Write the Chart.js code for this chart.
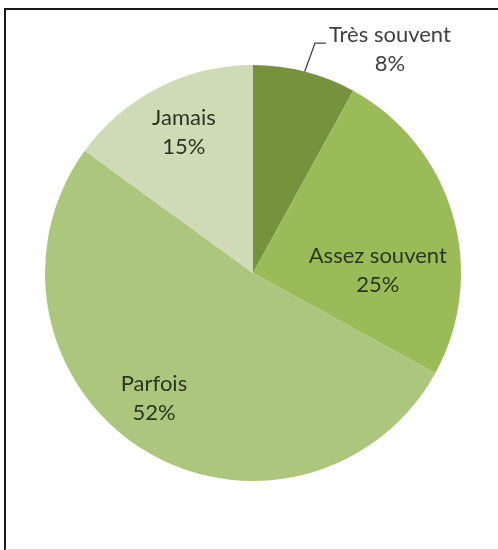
<!DOCTYPE html>
<html>
<head>
<meta charset="utf-8">
<script src="https://cdn.jsdelivr.net/npm/chart.js@4"></script>
<style>
  html, body { margin: 0; padding: 0; background: #ffffff; }
  #wrap { position: relative; width: 498px; height: 550px; overflow: hidden; }
  #frame { position: absolute; left: 4px; top: 8px; width: 520px; height: 539px;
           border-left: 2px solid #1a1a1a; border-top: 2px solid #1a1a1a; border-bottom: 2px solid #d9d9d9; }
  #c { position: absolute; left: 0; top: 0; }
</style>
</head>
<body>
<div id="wrap">
  <div id="frame"></div>
  <canvas id="c" width="498" height="550"></canvas>
</div>
<script>
const categories = ["Très souvent", "Assez souvent", "Parfois", "Jamais"];
const values = [8, 25, 52, 15];
const valueLabels = ["8%", "25%", "52%", "15%"];
const colors = ["#76923C", "#9BBB59", "#ADC67E", "#CEDBB6"];

// label placement style (radius fraction, angle shift in degrees), outside flag
const labelStyle = [
  { outside: true },
  { r: 0.60, shift: 14.8 },
  { r: 0.77, shift: 5.8 },
  { r: 0.755, shift: 0.9 }
];

const labelPlugin = {
  id: 'pieLabels',
  afterDatasetsDraw(chart) {
    const ctx = chart.ctx;
    const meta = chart.getDatasetMeta(0);
    ctx.save();
    ctx.font = '22px Lato, "Open Sans", sans-serif';
    ctx.textBaseline = 'middle';
    const lineH = 29;
    meta.data.forEach((arc, i) => {
      const p = arc.getProps(['x', 'y', 'startAngle', 'endAngle', 'outerRadius'], true);
      const mid = (p.startAngle + p.endAngle) / 2;
      const st = labelStyle[i];
      const R = p.outerRadius;
      if (st.outside) {
        const sx = p.x + Math.cos(mid) * R;
        const sy = p.y + Math.sin(mid) * R;
        const ex = p.x + Math.cos(mid + 0.012) * R * 1.145;
        const ey = p.y + Math.sin(mid + 0.012) * R * 1.145;
        const hx = ex + 11;
        ctx.strokeStyle = '#404040';
        ctx.lineWidth = 1.3;
        ctx.beginPath();
        ctx.moveTo(sx, sy);
        ctx.lineTo(ex, ey);
        ctx.lineTo(hx, ey);
        ctx.stroke();
        const w = ctx.measureText(categories[i]).width;
        const cx = hx + 3 + w / 2;
        ctx.fillStyle = '#404040';
        ctx.textAlign = 'center';
        ctx.fillText(categories[i], cx, ey - 8);
        ctx.fillText(valueLabels[i], cx, ey - 8 + lineH);
      } else {
        const a = mid + st.shift * Math.PI / 180;
        const cx = p.x + Math.cos(a) * R * st.r;
        const cy = p.y + Math.sin(a) * R * st.r;
        ctx.fillStyle = '#2a361f';
        ctx.textAlign = 'center';
        ctx.fillText(categories[i], cx, cy - lineH / 2);
        ctx.fillText(valueLabels[i], cx, cy + lineH / 2);
      }
    });
    ctx.restore();
  }
};

new Chart(document.getElementById('c'), {
  type: 'pie',
  data: {
    labels: categories,
    datasets: [{
      data: values,
      backgroundColor: colors,
      borderWidth: 0
    }]
  },
  options: {
    responsive: false,
    animation: false,
    layout: { padding: { left: 45, right: 37, top: 65, bottom: 69 } },
    plugins: {
      legend: { display: false },
      tooltip: { enabled: false }
    }
  },
  plugins: [labelPlugin]
});
</script>
</body>
</html>
